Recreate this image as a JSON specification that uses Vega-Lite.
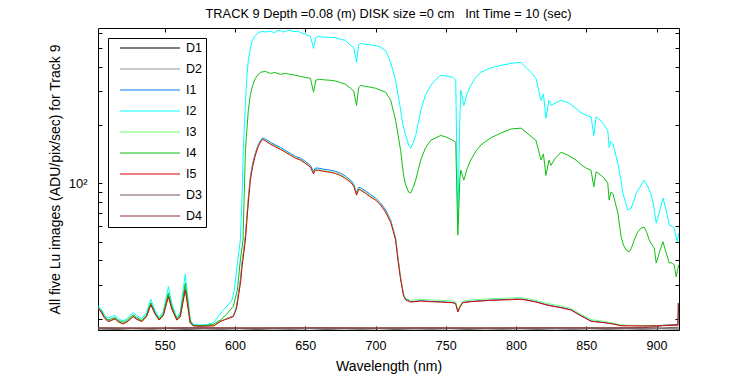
{
"$schema": "https://vega.github.io/schema/vega-lite/v6.json",
"width": 581, "height": 302,
"autosize": {"type": "none"},
"padding": {"left": 98, "top": 28, "right": 71, "bottom": 45},
"background": "white",
"config": {"view": {"stroke": "black", "strokeWidth": 1}, "font": "Liberation Sans", "axis": {"grid": false, "domain": false, "tickColor": "black", "labelColor": "black", "titleColor": "black", "labelFontSize": 12.5, "titleFontSize": 14, "titleFontWeight": "normal", "labelOverlap": false, "labelBound": false, "labelFlush": false}},
"title": {"text": "TRACK 9 Depth =0.08 (m) DISK size =0 cm\u00a0\u00a0 Int Time = 10 (sec)", "fontSize": 12.8, "fontWeight": "normal", "color": "black", "offset": 6},
"data": {"values": [
{"s":"D1","w":502.5,"v":17.75},{"s":"D1","w":515,"v":17.68},{"s":"D1","w":527,"v":17.78},{"s":"D1","w":540,"v":17.7},{"s":"D1","w":552,"v":17.8},{"s":"D1","w":565,"v":17.68},{"s":"D1","w":578,"v":17.76},{"s":"D1","w":590,"v":17.7},{"s":"D1","w":603,"v":17.78},{"s":"D1","w":615,"v":17.68},{"s":"D1","w":628,"v":17.76},{"s":"D1","w":640,"v":17.7},{"s":"D1","w":653,"v":17.79},{"s":"D1","w":665,"v":17.68},{"s":"D1","w":678,"v":17.77},{"s":"D1","w":690,"v":17.7},{"s":"D1","w":703,"v":17.78},{"s":"D1","w":715,"v":17.68},{"s":"D1","w":728,"v":17.76},{"s":"D1","w":740,"v":17.7},{"s":"D1","w":753,"v":17.79},{"s":"D1","w":765,"v":17.68},{"s":"D1","w":778,"v":17.77},{"s":"D1","w":790,"v":17.7},{"s":"D1","w":803,"v":17.78},{"s":"D1","w":815,"v":17.69},{"s":"D1","w":828,"v":17.77},{"s":"D1","w":840,"v":17.7},{"s":"D1","w":853,"v":17.78},{"s":"D1","w":865,"v":17.69},{"s":"D1","w":878,"v":17.77},{"s":"D1","w":890,"v":17.7},{"s":"D1","w":903,"v":17.78},{"s":"D1","w":915.8,"v":17.72},
{"s":"D2","w":502.5,"v":17.85},{"s":"D2","w":530,"v":17.82},{"s":"D2","w":560,"v":17.88},{"s":"D2","w":590,"v":17.83},{"s":"D2","w":620,"v":17.87},{"s":"D2","w":650,"v":17.82},{"s":"D2","w":680,"v":17.88},{"s":"D2","w":710,"v":17.83},{"s":"D2","w":740,"v":17.87},{"s":"D2","w":770,"v":17.82},{"s":"D2","w":800,"v":17.88},{"s":"D2","w":830,"v":17.83},{"s":"D2","w":860,"v":17.87},{"s":"D2","w":890,"v":17.82},{"s":"D2","w":915.8,"v":17.86},
{"s":"I1","w":502.5,"v":22.9},{"s":"I1","w":505,"v":21.7},{"s":"I1","w":507,"v":20.4},{"s":"I1","w":509.6,"v":19.4},{"s":"I1","w":512,"v":19.7},{"s":"I1","w":514.6,"v":20.1},{"s":"I1","w":517,"v":19.35},{"s":"I1","w":520.3,"v":18.85},{"s":"I1","w":523,"v":19.3},{"s":"I1","w":527.5,"v":20.7},{"s":"I1","w":530,"v":20.0},{"s":"I1","w":533.7,"v":19.4},{"s":"I1","w":537,"v":20.6},{"s":"I1","w":540.1,"v":24.0},{"s":"I1","w":543,"v":21.4},{"s":"I1","w":546,"v":19.8},{"s":"I1","w":549,"v":21.0},{"s":"I1","w":552.6,"v":26.6},{"s":"I1","w":555,"v":22.8},{"s":"I1","w":558.6,"v":19.8},{"s":"I1","w":561,"v":20.5},{"s":"I1","w":564.6,"v":29.0},{"s":"I1","w":566.5,"v":23.4},{"s":"I1","w":568.1,"v":19.1},{"s":"I1","w":570.3,"v":18.45},{"s":"I1","w":575,"v":18.35},{"s":"I1","w":580,"v":18.4},{"s":"I1","w":585,"v":18.45},{"s":"I1","w":589.5,"v":19.4},{"s":"I1","w":593,"v":19.9},{"s":"I1","w":598.8,"v":20.7},{"s":"I1","w":601,"v":23},{"s":"I1","w":602.4,"v":27},{"s":"I1","w":604,"v":32.5},{"s":"I1","w":605,"v":39},{"s":"I1","w":606.3,"v":46},{"s":"I1","w":607.4,"v":54},{"s":"I1","w":608.5,"v":68},{"s":"I1","w":609.5,"v":84},{"s":"I1","w":610.9,"v":108},{"s":"I1","w":612.5,"v":126},{"s":"I1","w":614.5,"v":144},{"s":"I1","w":616.5,"v":158},{"s":"I1","w":618.1,"v":166},{"s":"I1","w":619.5,"v":172},{"s":"I1","w":621.6,"v":169.5},{"s":"I1","w":625.2,"v":163},{"s":"I1","w":628.5,"v":158.5},{"s":"I1","w":632.3,"v":153.5},{"s":"I1","w":635.9,"v":148},{"s":"I1","w":639.4,"v":143},{"s":"I1","w":643,"v":138},{"s":"I1","w":646.6,"v":135},{"s":"I1","w":650,"v":130},{"s":"I1","w":653.7,"v":124},{"s":"I1","w":655.9,"v":115},{"s":"I1","w":657,"v":120},{"s":"I1","w":659.4,"v":120},{"s":"I1","w":663,"v":118.5},{"s":"I1","w":668,"v":117},{"s":"I1","w":671.5,"v":115.5},{"s":"I1","w":675,"v":113},{"s":"I1","w":678.7,"v":109},{"s":"I1","w":682.2,"v":104},{"s":"I1","w":684.5,"v":99.5},{"s":"I1","w":686.5,"v":89.5},{"s":"I1","w":688,"v":95.5},{"s":"I1","w":689.4,"v":95},{"s":"I1","w":692.9,"v":91.5},{"s":"I1","w":696.5,"v":87.5},{"s":"I1","w":700.1,"v":84},{"s":"I1","w":703.6,"v":79.3},{"s":"I1","w":707.2,"v":73},{"s":"I1","w":710.8,"v":64.5},{"s":"I1","w":712.5,"v":58.5},{"s":"I1","w":714.3,"v":52.3},{"s":"I1","w":716,"v":41.3},{"s":"I1","w":717.9,"v":32.5},{"s":"I1","w":720,"v":26.6},{"s":"I1","w":721.5,"v":25.3},{"s":"I1","w":725,"v":24.5},{"s":"I1","w":732.2,"v":24.8},{"s":"I1","w":739.3,"v":24.6},{"s":"I1","w":746.4,"v":24.5},{"s":"I1","w":755,"v":24.3},{"s":"I1","w":757.1,"v":24.0},{"s":"I1","w":758.6,"v":21.8},{"s":"I1","w":760,"v":23.0},{"s":"I1","w":762.1,"v":24.3},{"s":"I1","w":767.8,"v":24.6},{"s":"I1","w":775,"v":24.8},{"s":"I1","w":782,"v":25.0},{"s":"I1","w":789.2,"v":25.1},{"s":"I1","w":796.4,"v":25.2},{"s":"I1","w":800,"v":25.3},{"s":"I1","w":803.5,"v":25.3},{"s":"I1","w":807.1,"v":25.1},{"s":"I1","w":810.6,"v":24.8},{"s":"I1","w":814.2,"v":24.5},{"s":"I1","w":817.8,"v":24.1},{"s":"I1","w":821.3,"v":23.7},{"s":"I1","w":824.9,"v":23.4},{"s":"I1","w":832,"v":22.9},{"s":"I1","w":839,"v":22.3},{"s":"I1","w":846.3,"v":20.8},{"s":"I1","w":853.4,"v":19.5},{"s":"I1","w":862.7,"v":19.15},{"s":"I1","w":868.9,"v":18.85},{"s":"I1","w":874.8,"v":18.45},{"s":"I1","w":880,"v":18.45},{"s":"I1","w":890,"v":18.4},{"s":"I1","w":900,"v":18.45},{"s":"I1","w":908,"v":18.5},{"s":"I1","w":912,"v":18.55},{"s":"I1","w":915.8,"v":18.65},
{"s":"I2","w":502.5,"v":23.4},{"s":"I2","w":505,"v":22.4},{"s":"I2","w":507,"v":21.0},{"s":"I2","w":509.6,"v":20.2},{"s":"I2","w":512,"v":20.5},{"s":"I2","w":514.6,"v":20.8},{"s":"I2","w":517,"v":20.0},{"s":"I2","w":520.3,"v":19.5},{"s":"I2","w":523,"v":20.0},{"s":"I2","w":527.5,"v":21.6},{"s":"I2","w":530,"v":20.8},{"s":"I2","w":533.7,"v":20.0},{"s":"I2","w":537,"v":21.5},{"s":"I2","w":540.1,"v":25.2},{"s":"I2","w":543,"v":22.2},{"s":"I2","w":546,"v":20.3},{"s":"I2","w":549,"v":21.8},{"s":"I2","w":552.6,"v":29.4},{"s":"I2","w":555,"v":24.0},{"s":"I2","w":558.6,"v":20.2},{"s":"I2","w":561,"v":21.6},{"s":"I2","w":564.6,"v":34.0},{"s":"I2","w":566.5,"v":25.5},{"s":"I2","w":568.1,"v":19.8},{"s":"I2","w":570.3,"v":18.7},{"s":"I2","w":575,"v":18.6},{"s":"I2","w":580,"v":18.65},{"s":"I2","w":584.5,"v":19.05},{"s":"I2","w":588,"v":20.5},{"s":"I2","w":591.7,"v":22.2},{"s":"I2","w":595,"v":23.5},{"s":"I2","w":597.9,"v":25.0},{"s":"I2","w":599.5,"v":28},{"s":"I2","w":601.4,"v":37.2},{"s":"I2","w":602.5,"v":43},{"s":"I2","w":603.8,"v":51.0},{"s":"I2","w":605,"v":85},{"s":"I2","w":605.9,"v":148},{"s":"I2","w":607.4,"v":260},{"s":"I2","w":608.5,"v":360},{"s":"I2","w":609.5,"v":432},{"s":"I2","w":611,"v":500},{"s":"I2","w":612.3,"v":548},{"s":"I2","w":614.5,"v":581},{"s":"I2","w":616.6,"v":602},{"s":"I2","w":619.5,"v":610},{"s":"I2","w":622,"v":605},{"s":"I2","w":625.2,"v":612},{"s":"I2","w":628,"v":600},{"s":"I2","w":630,"v":615},{"s":"I2","w":632.3,"v":617},{"s":"I2","w":634,"v":605},{"s":"I2","w":636,"v":612},{"s":"I2","w":639.4,"v":617},{"s":"I2","w":642,"v":608},{"s":"I2","w":644.5,"v":613},{"s":"I2","w":646.6,"v":602},{"s":"I2","w":650,"v":590},{"s":"I2","w":653.7,"v":575},{"s":"I2","w":655.9,"v":498},{"s":"I2","w":657.5,"v":568},{"s":"I2","w":659.4,"v":575},{"s":"I2","w":663,"v":570},{"s":"I2","w":668,"v":568},{"s":"I2","w":671.5,"v":566},{"s":"I2","w":675,"v":556},{"s":"I2","w":678.7,"v":548},{"s":"I2","w":682.2,"v":516},{"s":"I2","w":684.5,"v":505},{"s":"I2","w":686.5,"v":422},{"s":"I2","w":688,"v":520},{"s":"I2","w":689.4,"v":529},{"s":"I2","w":692.9,"v":522},{"s":"I2","w":696.5,"v":520},{"s":"I2","w":700.1,"v":516},{"s":"I2","w":703.6,"v":505},{"s":"I2","w":707.2,"v":486},{"s":"I2","w":710.8,"v":422},{"s":"I2","w":714.3,"v":341},{"s":"I2","w":717.9,"v":239},{"s":"I2","w":719.5,"v":200},{"s":"I2","w":721.5,"v":177},{"s":"I2","w":723.6,"v":158},{"s":"I2","w":725,"v":152},{"s":"I2","w":726.5,"v":160},{"s":"I2","w":728.6,"v":177},{"s":"I2","w":730.5,"v":205},{"s":"I2","w":732.2,"v":239},{"s":"I2","w":735.5,"v":285},{"s":"I2","w":739.3,"v":321},{"s":"I2","w":743,"v":345},{"s":"I2","w":746.4,"v":362},{"s":"I2","w":750,"v":360},{"s":"I2","w":755,"v":353},{"s":"I2","w":757.1,"v":341},{"s":"I2","w":758.6,"v":61},{"s":"I2","w":760,"v":212},{"s":"I2","w":760.7,"v":303},{"s":"I2","w":762.9,"v":253},{"s":"I2","w":765,"v":290},{"s":"I2","w":767.8,"v":321},{"s":"I2","w":771,"v":350},{"s":"I2","w":775,"v":375},{"s":"I2","w":782,"v":395},{"s":"I2","w":789.2,"v":407},{"s":"I2","w":796.4,"v":417},{"s":"I2","w":800,"v":420},{"s":"I2","w":803.5,"v":422},{"s":"I2","w":807.1,"v":398},{"s":"I2","w":810.6,"v":375},{"s":"I2","w":814.2,"v":349},{"s":"I2","w":817.8,"v":269},{"s":"I2","w":819.5,"v":290},{"s":"I2","w":821.3,"v":217},{"s":"I2","w":823.5,"v":269},{"s":"I2","w":824.9,"v":253},{"s":"I2","w":828,"v":260},{"s":"I2","w":832,"v":269},{"s":"I2","w":837,"v":262},{"s":"I2","w":842.7,"v":244},{"s":"I2","w":846.3,"v":232},{"s":"I2","w":849.9,"v":225},{"s":"I2","w":853.4,"v":221},{"s":"I2","w":855.4,"v":177},{"s":"I2","w":857,"v":221},{"s":"I2","w":860.6,"v":210},{"s":"I2","w":862.7,"v":200},{"s":"I2","w":865.3,"v":188},{"s":"I2","w":866.3,"v":153.5},{"s":"I2","w":867.5,"v":165},{"s":"I2","w":868.9,"v":161},{"s":"I2","w":872.5,"v":127},{"s":"I2","w":874.8,"v":103},{"s":"I2","w":876,"v":89},{"s":"I2","w":878.4,"v":78},{"s":"I2","w":879.6,"v":72.8},{"s":"I2","w":882,"v":74.6},{"s":"I2","w":884.1,"v":82},{"s":"I2","w":885.5,"v":89},{"s":"I2","w":889.1,"v":98},{"s":"I2","w":891.2,"v":104},{"s":"I2","w":893.9,"v":96},{"s":"I2","w":895.5,"v":90},{"s":"I2","w":897.5,"v":80.4},{"s":"I2","w":899.8,"v":62.4},{"s":"I2","w":901.9,"v":70.3},{"s":"I2","w":904.6,"v":84},{"s":"I2","w":906.9,"v":72.8},{"s":"I2","w":909.1,"v":61},{"s":"I2","w":911,"v":60},{"s":"I2","w":912.6,"v":58.8},{"s":"I2","w":914.7,"v":50},{"s":"I2","w":915.8,"v":55.4},
{"s":"I3","w":502.5,"v":22.8},{"s":"I3","w":505,"v":21.6},{"s":"I3","w":507,"v":20.35},{"s":"I3","w":509.6,"v":19.4},{"s":"I3","w":512,"v":19.65},{"s":"I3","w":514.6,"v":20.05},{"s":"I3","w":517,"v":19.3},{"s":"I3","w":520.3,"v":18.85},{"s":"I3","w":523,"v":19.25},{"s":"I3","w":527.5,"v":20.6},{"s":"I3","w":530,"v":19.95},{"s":"I3","w":533.7,"v":19.4},{"s":"I3","w":537,"v":20.55},{"s":"I3","w":540.1,"v":23.8},{"s":"I3","w":543,"v":21.3},{"s":"I3","w":546,"v":19.75},{"s":"I3","w":549,"v":20.9},{"s":"I3","w":552.6,"v":26.3},{"s":"I3","w":555,"v":22.6},{"s":"I3","w":558.6,"v":19.75},{"s":"I3","w":561,"v":20.45},{"s":"I3","w":564.6,"v":28.6},{"s":"I3","w":566.5,"v":23.2},{"s":"I3","w":568.1,"v":19.1},{"s":"I3","w":570.3,"v":18.45},{"s":"I3","w":575,"v":18.35},{"s":"I3","w":580,"v":18.4},{"s":"I3","w":585,"v":18.45},{"s":"I3","w":589.5,"v":19.4},{"s":"I3","w":593,"v":19.9},{"s":"I3","w":598.8,"v":20.6},{"s":"I3","w":601,"v":22.7},{"s":"I3","w":602.4,"v":26.4},{"s":"I3","w":604,"v":31.5},{"s":"I3","w":605,"v":37.8},{"s":"I3","w":606.3,"v":45},{"s":"I3","w":607.4,"v":52},{"s":"I3","w":608.5,"v":66},{"s":"I3","w":609.5,"v":81},{"s":"I3","w":610.9,"v":105},{"s":"I3","w":612.5,"v":123},{"s":"I3","w":614.5,"v":141},{"s":"I3","w":616.5,"v":156},{"s":"I3","w":618.1,"v":164},{"s":"I3","w":619.5,"v":170},{"s":"I3","w":621.6,"v":167},{"s":"I3","w":625.2,"v":160.5},{"s":"I3","w":628.5,"v":156},{"s":"I3","w":632.3,"v":151},{"s":"I3","w":635.9,"v":146},{"s":"I3","w":639.4,"v":141},{"s":"I3","w":643,"v":136},{"s":"I3","w":646.6,"v":133},{"s":"I3","w":650,"v":128},{"s":"I3","w":653.7,"v":122},{"s":"I3","w":655.9,"v":113},{"s":"I3","w":657,"v":118},{"s":"I3","w":659.4,"v":118},{"s":"I3","w":663,"v":116.5},{"s":"I3","w":668,"v":115},{"s":"I3","w":671.5,"v":113.5},{"s":"I3","w":675,"v":111},{"s":"I3","w":678.7,"v":107},{"s":"I3","w":682.2,"v":102.5},{"s":"I3","w":684.5,"v":98},{"s":"I3","w":686.5,"v":88},{"s":"I3","w":688,"v":94},{"s":"I3","w":689.4,"v":93.3},{"s":"I3","w":692.9,"v":90},{"s":"I3","w":696.5,"v":86},{"s":"I3","w":700.1,"v":83},{"s":"I3","w":703.6,"v":78},{"s":"I3","w":707.2,"v":71.8},{"s":"I3","w":710.8,"v":63.8},{"s":"I3","w":712.5,"v":57.8},{"s":"I3","w":714.3,"v":51.6},{"s":"I3","w":716,"v":40.8},{"s":"I3","w":717.9,"v":32.3},{"s":"I3","w":720,"v":26.7},{"s":"I3","w":721.5,"v":25.5},{"s":"I3","w":725,"v":24.9},{"s":"I3","w":732.2,"v":25.2},{"s":"I3","w":739.3,"v":25.0},{"s":"I3","w":746.4,"v":24.9},{"s":"I3","w":755,"v":24.7},{"s":"I3","w":757.1,"v":24.4},{"s":"I3","w":758.6,"v":22.1},{"s":"I3","w":760,"v":23.4},{"s":"I3","w":762.1,"v":24.7},{"s":"I3","w":767.8,"v":25.0},{"s":"I3","w":775,"v":25.2},{"s":"I3","w":782,"v":25.4},{"s":"I3","w":789.2,"v":25.5},{"s":"I3","w":796.4,"v":25.6},{"s":"I3","w":800,"v":25.7},{"s":"I3","w":803.5,"v":25.7},{"s":"I3","w":807.1,"v":25.5},{"s":"I3","w":810.6,"v":25.2},{"s":"I3","w":814.2,"v":24.9},{"s":"I3","w":817.8,"v":24.5},{"s":"I3","w":821.3,"v":24.1},{"s":"I3","w":824.9,"v":23.8},{"s":"I3","w":832,"v":23.3},{"s":"I3","w":839,"v":22.6},{"s":"I3","w":846.3,"v":21.1},{"s":"I3","w":853.4,"v":19.8},{"s":"I3","w":862.7,"v":19.4},{"s":"I3","w":868.9,"v":19.0},{"s":"I3","w":874.8,"v":18.6},{"s":"I3","w":880,"v":18.5},{"s":"I3","w":890,"v":18.4},{"s":"I3","w":900,"v":18.45},{"s":"I3","w":908,"v":18.5},{"s":"I3","w":912,"v":18.55},{"s":"I3","w":915.8,"v":18.6},
{"s":"I4","w":502.5,"v":22.9},{"s":"I4","w":505,"v":21.9},{"s":"I4","w":507,"v":20.6},{"s":"I4","w":509.6,"v":19.7},{"s":"I4","w":512,"v":20.0},{"s":"I4","w":514.6,"v":20.3},{"s":"I4","w":517,"v":19.6},{"s":"I4","w":520.3,"v":19.2},{"s":"I4","w":523,"v":19.6},{"s":"I4","w":527.5,"v":21.0},{"s":"I4","w":530,"v":20.3},{"s":"I4","w":533.7,"v":19.6},{"s":"I4","w":537,"v":20.9},{"s":"I4","w":540.1,"v":24.2},{"s":"I4","w":543,"v":21.6},{"s":"I4","w":546,"v":19.9},{"s":"I4","w":549,"v":21.2},{"s":"I4","w":552.6,"v":27.2},{"s":"I4","w":555,"v":23.2},{"s":"I4","w":558.6,"v":19.9},{"s":"I4","w":561,"v":21.0},{"s":"I4","w":564.6,"v":30.5},{"s":"I4","w":566.5,"v":24.3},{"s":"I4","w":568.1,"v":19.5},{"s":"I4","w":570.3,"v":18.5},{"s":"I4","w":575,"v":18.45},{"s":"I4","w":580,"v":18.5},{"s":"I4","w":585,"v":18.8},{"s":"I4","w":589.5,"v":19.7},{"s":"I4","w":593.8,"v":21.0},{"s":"I4","w":598.8,"v":23.2},{"s":"I4","w":601.7,"v":28.2},{"s":"I4","w":603.8,"v":40.2},{"s":"I4","w":605.7,"v":51},{"s":"I4","w":607.4,"v":148},{"s":"I4","w":609.5,"v":239},{"s":"I4","w":610.9,"v":285},{"s":"I4","w":612.5,"v":320},{"s":"I4","w":614.5,"v":349},{"s":"I4","w":616.5,"v":365},{"s":"I4","w":618.1,"v":375},{"s":"I4","w":621.6,"v":379},{"s":"I4","w":625.2,"v":370},{"s":"I4","w":628.5,"v":374},{"s":"I4","w":632.3,"v":366},{"s":"I4","w":636,"v":370},{"s":"I4","w":639.4,"v":366},{"s":"I4","w":643,"v":362},{"s":"I4","w":646.6,"v":357},{"s":"I4","w":650,"v":353},{"s":"I4","w":653.7,"v":349},{"s":"I4","w":655.9,"v":296},{"s":"I4","w":657.5,"v":341},{"s":"I4","w":659.4,"v":345},{"s":"I4","w":663,"v":343},{"s":"I4","w":668,"v":341},{"s":"I4","w":671.5,"v":338},{"s":"I4","w":675,"v":332},{"s":"I4","w":678.7,"v":325},{"s":"I4","w":682.2,"v":310},{"s":"I4","w":684.5,"v":300},{"s":"I4","w":686.5,"v":253},{"s":"I4","w":688,"v":312},{"s":"I4","w":689.4,"v":321},{"s":"I4","w":692.9,"v":317},{"s":"I4","w":696.5,"v":314},{"s":"I4","w":700.1,"v":310},{"s":"I4","w":703.6,"v":303},{"s":"I4","w":707.2,"v":296},{"s":"I4","w":710.8,"v":269},{"s":"I4","w":714.3,"v":212},{"s":"I4","w":717.9,"v":148},{"s":"I4","w":720,"v":110},{"s":"I4","w":721.5,"v":98},{"s":"I4","w":723.6,"v":90.2},{"s":"I4","w":725,"v":89.1},{"s":"I4","w":726.5,"v":94},{"s":"I4","w":728.6,"v":104},{"s":"I4","w":730.5,"v":118},{"s":"I4","w":732.2,"v":132},{"s":"I4","w":735.5,"v":152},{"s":"I4","w":739.3,"v":167},{"s":"I4","w":743,"v":172},{"s":"I4","w":746.4,"v":177},{"s":"I4","w":750,"v":174},{"s":"I4","w":755,"v":167},{"s":"I4","w":757.1,"v":163},{"s":"I4","w":758.6,"v":54.1},{"s":"I4","w":760,"v":104},{"s":"I4","w":760.7,"v":117},{"s":"I4","w":762.9,"v":104},{"s":"I4","w":765,"v":118},{"s":"I4","w":767.8,"v":132},{"s":"I4","w":771,"v":145},{"s":"I4","w":775,"v":158},{"s":"I4","w":782,"v":172},{"s":"I4","w":789.2,"v":182},{"s":"I4","w":796.4,"v":191},{"s":"I4","w":800,"v":192},{"s":"I4","w":803.5,"v":193},{"s":"I4","w":807.1,"v":184},{"s":"I4","w":810.6,"v":175},{"s":"I4","w":814.2,"v":167},{"s":"I4","w":817.8,"v":132},{"s":"I4","w":819.5,"v":142},{"s":"I4","w":821.3,"v":110},{"s":"I4","w":823.5,"v":132},{"s":"I4","w":824.9,"v":124},{"s":"I4","w":828,"v":135},{"s":"I4","w":832,"v":145},{"s":"I4","w":837,"v":140},{"s":"I4","w":842.7,"v":132},{"s":"I4","w":846.3,"v":125},{"s":"I4","w":849.9,"v":120},{"s":"I4","w":853.4,"v":117},{"s":"I4","w":855.4,"v":96},{"s":"I4","w":857,"v":115},{"s":"I4","w":860.6,"v":110},{"s":"I4","w":862.7,"v":106.5},{"s":"I4","w":865.3,"v":100.4},{"s":"I4","w":866.3,"v":82},{"s":"I4","w":867.5,"v":90},{"s":"I4","w":868.9,"v":89},{"s":"I4","w":872.5,"v":70.3},{"s":"I4","w":874.8,"v":53},{"s":"I4","w":876.5,"v":48},{"s":"I4","w":878.4,"v":45.3},{"s":"I4","w":880.5,"v":44.4},{"s":"I4","w":882,"v":46},{"s":"I4","w":884.1,"v":51},{"s":"I4","w":886.5,"v":56},{"s":"I4","w":889.1,"v":58.8},{"s":"I4","w":891.2,"v":59.5},{"s":"I4","w":893,"v":56},{"s":"I4","w":894.8,"v":51},{"s":"I4","w":896.5,"v":48.5},{"s":"I4","w":898.4,"v":46.4},{"s":"I4","w":899.8,"v":38.8},{"s":"I4","w":901.9,"v":43.7},{"s":"I4","w":904.6,"v":50},{"s":"I4","w":906.9,"v":43.7},{"s":"I4","w":909.1,"v":38.8},{"s":"I4","w":911,"v":39},{"s":"I4","w":912.6,"v":37.9},{"s":"I4","w":914,"v":33},{"s":"I4","w":915.8,"v":37.9},
{"s":"I5","w":502.5,"v":22.7},{"s":"I5","w":505,"v":21.5},{"s":"I5","w":507,"v":20.3},{"s":"I5","w":509.6,"v":19.35},{"s":"I5","w":512,"v":19.6},{"s":"I5","w":514.6,"v":20.0},{"s":"I5","w":517,"v":19.3},{"s":"I5","w":520.3,"v":18.8},{"s":"I5","w":523,"v":19.2},{"s":"I5","w":527.5,"v":20.5},{"s":"I5","w":530,"v":19.9},{"s":"I5","w":533.7,"v":19.35},{"s":"I5","w":537,"v":20.5},{"s":"I5","w":540.1,"v":23.6},{"s":"I5","w":543,"v":21.2},{"s":"I5","w":546,"v":19.7},{"s":"I5","w":549,"v":20.8},{"s":"I5","w":552.6,"v":26.0},{"s":"I5","w":555,"v":22.5},{"s":"I5","w":558.6,"v":19.7},{"s":"I5","w":561,"v":20.4},{"s":"I5","w":564.6,"v":28.2},{"s":"I5","w":566.5,"v":23.0},{"s":"I5","w":568.1,"v":19.05},{"s":"I5","w":570.3,"v":18.4},{"s":"I5","w":575,"v":18.3},{"s":"I5","w":580,"v":18.35},{"s":"I5","w":585,"v":18.4},{"s":"I5","w":589.5,"v":19.35},{"s":"I5","w":593,"v":19.8},{"s":"I5","w":598.8,"v":20.5},{"s":"I5","w":601,"v":22.5},{"s":"I5","w":602.4,"v":26.0},{"s":"I5","w":604,"v":31},{"s":"I5","w":605,"v":37.2},{"s":"I5","w":606.3,"v":44},{"s":"I5","w":607.4,"v":51.0},{"s":"I5","w":608.5,"v":65},{"s":"I5","w":609.5,"v":80},{"s":"I5","w":610.9,"v":104},{"s":"I5","w":612.5,"v":122},{"s":"I5","w":614.5,"v":140},{"s":"I5","w":616.5,"v":155},{"s":"I5","w":618.1,"v":163},{"s":"I5","w":619.5,"v":169},{"s":"I5","w":621.6,"v":166},{"s":"I5","w":625.2,"v":159.5},{"s":"I5","w":628.5,"v":155},{"s":"I5","w":632.3,"v":150},{"s":"I5","w":635.9,"v":145},{"s":"I5","w":639.4,"v":140},{"s":"I5","w":643,"v":135},{"s":"I5","w":646.6,"v":132},{"s":"I5","w":650,"v":127},{"s":"I5","w":653.7,"v":121.3},{"s":"I5","w":655.9,"v":112},{"s":"I5","w":657,"v":117},{"s":"I5","w":659.4,"v":117},{"s":"I5","w":663,"v":115.5},{"s":"I5","w":668,"v":114},{"s":"I5","w":671.5,"v":112.5},{"s":"I5","w":675,"v":110},{"s":"I5","w":678.7,"v":106},{"s":"I5","w":682.2,"v":101.5},{"s":"I5","w":684.5,"v":97},{"s":"I5","w":686.5,"v":87},{"s":"I5","w":688,"v":93},{"s":"I5","w":689.4,"v":92.4},{"s":"I5","w":692.9,"v":89},{"s":"I5","w":696.5,"v":85},{"s":"I5","w":700.1,"v":82},{"s":"I5","w":703.6,"v":77.3},{"s":"I5","w":707.2,"v":71.1},{"s":"I5","w":710.8,"v":63},{"s":"I5","w":712.5,"v":57},{"s":"I5","w":714.3,"v":51},{"s":"I5","w":716,"v":40.2},{"s":"I5","w":717.9,"v":31.8},{"s":"I5","w":720,"v":26.2},{"s":"I5","w":721.5,"v":25},{"s":"I5","w":725,"v":24.4},{"s":"I5","w":732.2,"v":24.7},{"s":"I5","w":739.3,"v":24.5},{"s":"I5","w":746.4,"v":24.4},{"s":"I5","w":755,"v":24.2},{"s":"I5","w":757.1,"v":23.9},{"s":"I5","w":758.6,"v":21.7},{"s":"I5","w":760,"v":22.9},{"s":"I5","w":762.1,"v":24.2},{"s":"I5","w":767.8,"v":24.5},{"s":"I5","w":775,"v":24.7},{"s":"I5","w":782,"v":24.9},{"s":"I5","w":789.2,"v":25.0},{"s":"I5","w":796.4,"v":25.1},{"s":"I5","w":800,"v":25.2},{"s":"I5","w":803.5,"v":25.2},{"s":"I5","w":807.1,"v":25.0},{"s":"I5","w":810.6,"v":24.7},{"s":"I5","w":814.2,"v":24.4},{"s":"I5","w":817.8,"v":24.0},{"s":"I5","w":821.3,"v":23.6},{"s":"I5","w":824.9,"v":23.3},{"s":"I5","w":832,"v":22.8},{"s":"I5","w":839,"v":22.2},{"s":"I5","w":846.3,"v":20.7},{"s":"I5","w":853.4,"v":19.4},{"s":"I5","w":862.7,"v":19.1},{"s":"I5","w":868.9,"v":18.8},{"s":"I5","w":874.8,"v":18.4},{"s":"I5","w":880,"v":18.4},{"s":"I5","w":890,"v":18.35},{"s":"I5","w":900,"v":18.4},{"s":"I5","w":908,"v":18.45},{"s":"I5","w":912,"v":18.5},{"s":"I5","w":915.8,"v":18.6},
{"s":"D3","w":502.5,"v":17.9},{"s":"D3","w":535,"v":17.88},{"s":"D3","w":570,"v":17.92},{"s":"D3","w":605,"v":17.89},{"s":"D3","w":640,"v":17.93},{"s":"D3","w":675,"v":17.89},{"s":"D3","w":710,"v":17.92},{"s":"D3","w":745,"v":17.88},{"s":"D3","w":780,"v":17.92},{"s":"D3","w":815,"v":17.89},{"s":"D3","w":850,"v":17.93},{"s":"D3","w":885,"v":17.9},{"s":"D3","w":905,"v":17.95},{"s":"D3","w":915.8,"v":18.1},
{"s":"D4","w":502.5,"v":17.95},{"s":"D4","w":540,"v":17.92},{"s":"D4","w":580,"v":17.97},{"s":"D4","w":620,"v":17.93},{"s":"D4","w":660,"v":17.98},{"s":"D4","w":700,"v":17.93},{"s":"D4","w":740,"v":17.97},{"s":"D4","w":780,"v":17.93},{"s":"D4","w":820,"v":17.98},{"s":"D4","w":860,"v":17.95},{"s":"D4","w":890,"v":18.0},{"s":"D4","w":900,"v":18.2},{"s":"D4","w":905,"v":18.5},{"s":"D4","w":912,"v":18.6},{"s":"D4","w":915,"v":18.7},{"s":"D4","w":915.5,"v":24.1},{"s":"D4","w":916,"v":18.6}
]},
"encoding": {
  "x": {"field": "w", "type": "quantitative", "scale": {"domain": [502.5, 916], "nice": false, "zero": false},
        "axis": {"orient": "bottom", "values": [550,600,650,700,750,800,850,900], "tickSize": -4, "labelPadding": 13, "title": "Wavelength (nm)", "titlePadding": 8}},
  "y": {"field": "v", "type": "quantitative", "scale": {"type": "log", "domain": [17.5, 635], "nice": false},
        "axis": {"orient": "left", "values": [20,30,40,50,60,70,80,90,100,200,300,400,500,600], "labelExpr": "datum.value == 100 ? '10²' : ''", "labelFontSize": 13, "tickSize": -4, "labelPadding": 15, "title": "All five Lu images (ADU/pix/sec) for Track 9", "titlePadding": 6}},
  "color": {"field": "s", "type": "nominal",
    "scale": {"domain": ["D1","D2","I1","I2","I3","I4","I5","D3","D4"], "range": ["#000000","#969696","#0080ff","#00ffff","#70ff70","#10c010","#e00000","#7a5555","#8a3333"]},
    "legend": {"orient": "none", "legendX": 10, "legendY": 10, "title": null, "symbolType": "stroke", "symbolSize": 3600, "symbolStrokeWidth": 1.2, "clipHeight": 12, "rowPadding": 8, "padding": 4, "symbolOffset": 7, "labelOffset": 5, "strokeColor": "black", "fillColor": "white", "labelFontSize": 12.5, "labelColor": "black", "cornerRadius": 0}}
},
"layer": [
  {"transform": [{"filter": "datum.s == 'D1' || datum.s == 'D2'"}], "mark": {"type": "line", "strokeWidth": 1, "clip": true}},
  {"transform": [{"filter": "indexof(['I1','I2','I3','I4','I5'], datum.s) >= 0"}], "mark": {"type": "line", "strokeWidth": 1, "clip": true},
   "encoding": {
     "x": {"field": "w", "type": "quantitative", "scale": {"domain": [502.5, 916], "nice": false, "zero": false}, "axis": {"orient": "top", "values": [550,600,650,700,750,800,850,900], "tickSize": -4, "labels": false, "title": null}},
     "y": {"field": "v", "type": "quantitative", "scale": {"type": "log", "domain": [17.5, 635], "nice": false}, "axis": {"orient": "right", "values": [20,30,40,50,60,70,80,90,100,200,300,400,500,600], "tickSize": -4, "labels": false, "title": null}}
   }},
  {"transform": [{"filter": "datum.s == 'D3' || datum.s == 'D4'"}], "mark": {"type": "line", "strokeWidth": 1, "clip": true},
   "encoding": {
     "x": {"field": "w", "type": "quantitative", "scale": {"domain": [502.5, 916], "nice": false, "zero": false}, "axis": null},
     "y": {"field": "v", "type": "quantitative", "scale": {"type": "log", "domain": [17.5, 635], "nice": false}, "axis": null}
   }}
],
"resolve": {"axis": {"x": "independent", "y": "independent"}}
}
